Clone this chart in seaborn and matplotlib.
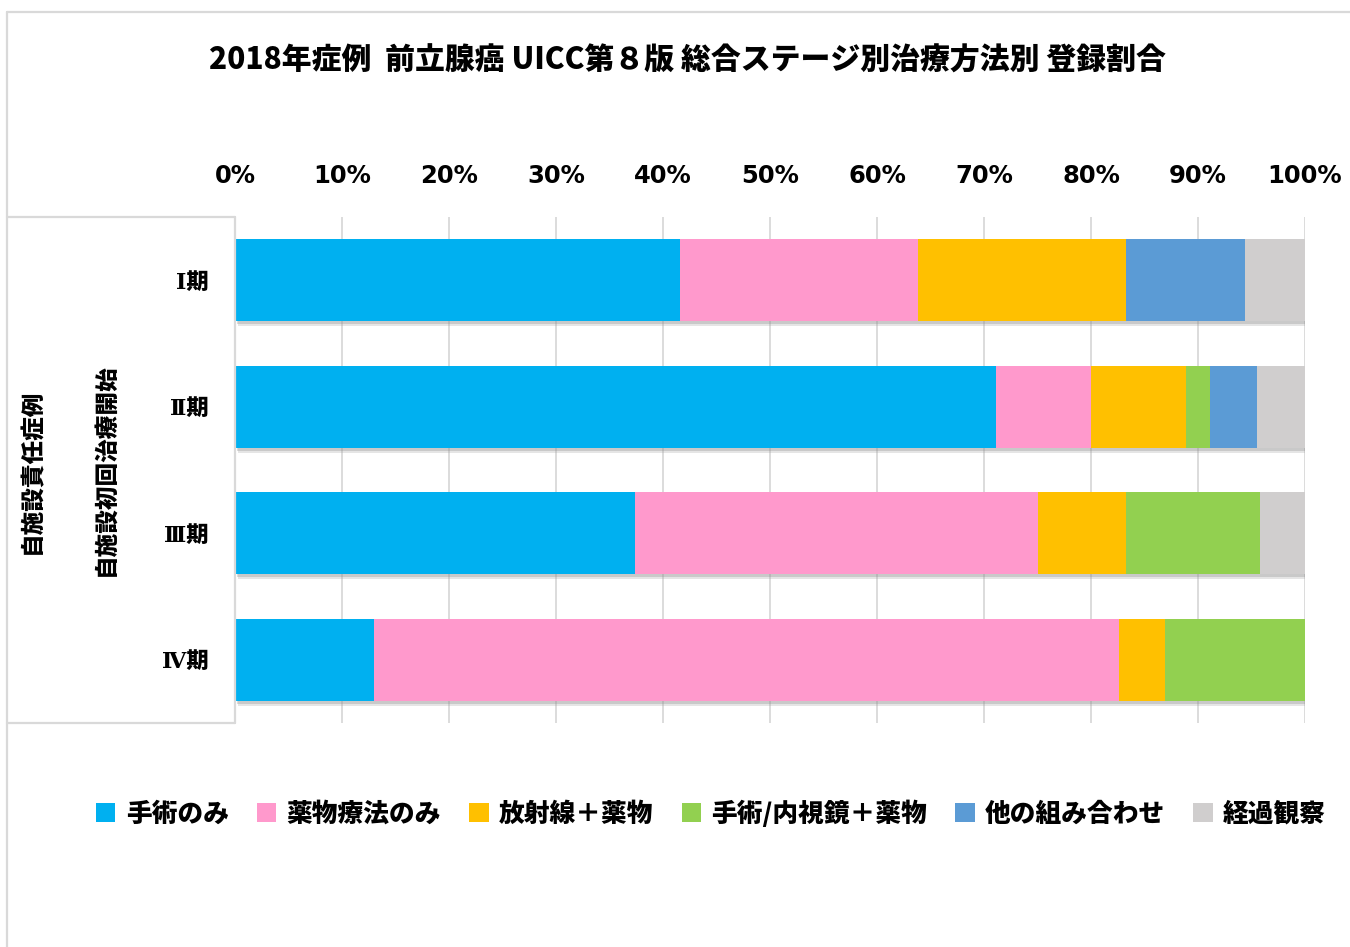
import numpy as np
import pandas as pd
import matplotlib
matplotlib.use("Agg")
import matplotlib.pyplot as plt
import matplotlib.patheffects as pe
from matplotlib.patches import Patch
from matplotlib.lines import Line2D
import seaborn as sns

# Data (percent of registered cases)
stages = ["Ⅰ期", "Ⅱ期", "Ⅲ期", "Ⅳ期"]
series_names = ["手術のみ", "薬物療法のみ", "放射線＋薬物", "手術/内視鏡＋薬物", "他の組み合わせ", "経過観察"]
surgery_only = [41.6, 71.1, 37.4, 13.0]
drug_only = [22.2, 8.9, 37.6, 69.6]
radiation_drug = [19.5, 8.9, 8.3, 4.3]
surgery_endo_drug = [0.0, 2.2, 12.5, 13.1]
other_combo = [11.1, 4.4, 0.0, 0.0]
observation = [5.6, 4.5, 4.2, 0.0]
colors = ["#00B0F0", "#FF99CC", "#FFC000", "#92D050", "#5B9BD5", "#D0CECE"]
x_ticks = list(range(0, 101, 10))

title = "2018年症例  前立腺癌 UICC第８版 総合ステージ別治療方法別 登録割合"
group_outer = "自施設責任症例"
group_inner = "自施設初回治療開始"

sns.set_theme(style="white")
plt.rcParams["font.family"] = ["Noto Sans CJK JP", "DejaVu Sans"]
plt.rcParams["text.color"] = "black"
plt.rcParams["xtick.color"] = "black"
plt.rcParams["ytick.color"] = "black"

# long table + cumulative sums for stacking
df = pd.DataFrame(
    {
        "stage": stages,
        series_names[0]: surgery_only,
        series_names[1]: drug_only,
        series_names[2]: radiation_drug,
        series_names[3]: surgery_endo_drug,
        series_names[4]: other_combo,
        series_names[5]: observation,
    }
)
cum = df[series_names].cumsum(axis=1)

W, H = 1350, 947
fig = plt.figure(figsize=(W / 100, H / 100), dpi=100)
ax = fig.add_axes([235 / W, 1 - 723 / H, (1305 - 235) / W, (723 - 217) / H])

grid_col = "#D9D9D9"

# draw from the full bar down so the shorter segments sit on top
for i in reversed(range(len(series_names))):
    sns.barplot(
        x=cum[series_names[i]],
        y=df["stage"],
        orient="h",
        color=colors[i],
        saturation=1,
        width=0.65,
        linewidth=0,
        ax=ax,
    )
    if i == len(series_names) - 1:
        for p in ax.patches:
            p.set_path_effects(
                [
                    pe.SimplePatchShadow(offset=(2.5, -3.5), shadow_rgbFace="#9a9a9a", alpha=0.25),
                    pe.SimplePatchShadow(offset=(1.5, -2), shadow_rgbFace="#8a8a8a", alpha=0.3),
                    pe.Normal(),
                ]
            )

ax.set_xlim(0, 100)
ax.set_xticks(x_ticks)
ax.set_xticklabels([f"{v}%" for v in x_ticks], fontfamily="DejaVu Sans", fontweight="bold", fontsize=17.5)
ax.xaxis.tick_top()
ax.tick_params(axis="x", length=0, pad=21)
ax.tick_params(axis="y", length=0, pad=19)
for lab in ax.get_yticklabels():
    lab.set_fontfamily(["DejaVu Serif", "Noto Sans CJK JP"])
    lab.set_fontweight("heavy")
    lab.set_fontsize(16)
ax.set_xlabel("")
ax.set_ylabel("")
ax.grid(axis="x", color=grid_col, linewidth=1.3)
ax.set_axisbelow(True)
for s in ["top", "right", "bottom", "left"]:
    ax.spines[s].set_visible(False)

# chart frame and category table lines
def fline(x0, y0, x1, y1):
    fig.add_artist(Line2D([x0 / W, x1 / W], [1 - y0 / H, 1 - y1 / H], color=grid_col, linewidth=1.6))

fline(7, 12, W, 12)
fline(7, 12, 7, H)
fline(7, 217, 235, 217)
fline(7, 723, 235, 723)
fline(235, 217, 235, 723)

fig.text(32 / W, 1 - 471 / H, group_outer, rotation=90, ha="center", va="center", fontsize=17, fontweight="heavy")
fig.text(105 / W, 1 - 470 / H, group_inner, rotation=90, ha="center", va="center", fontsize=17, fontweight="heavy")

fig.text(687 / W, 1 - 60 / H, title, ha="center", va="center", fontsize=21.5, fontweight="heavy")

handles = [Patch(facecolor=c, edgecolor="none") for c in colors]
fig.legend(
    handles,
    series_names,
    loc="center",
    bbox_to_anchor=(711 / W, 1 - 813 / H),
    ncol=6,
    frameon=False,
    handlelength=0.75,
    handleheight=0.75,
    handletextpad=0.4,
    columnspacing=1.1,
    prop={"family": ["Noto Sans CJK JP", "DejaVu Sans"], "weight": "heavy", "size": 18.5},
)

fig.savefig("out.png", dpi=100, facecolor="white")
